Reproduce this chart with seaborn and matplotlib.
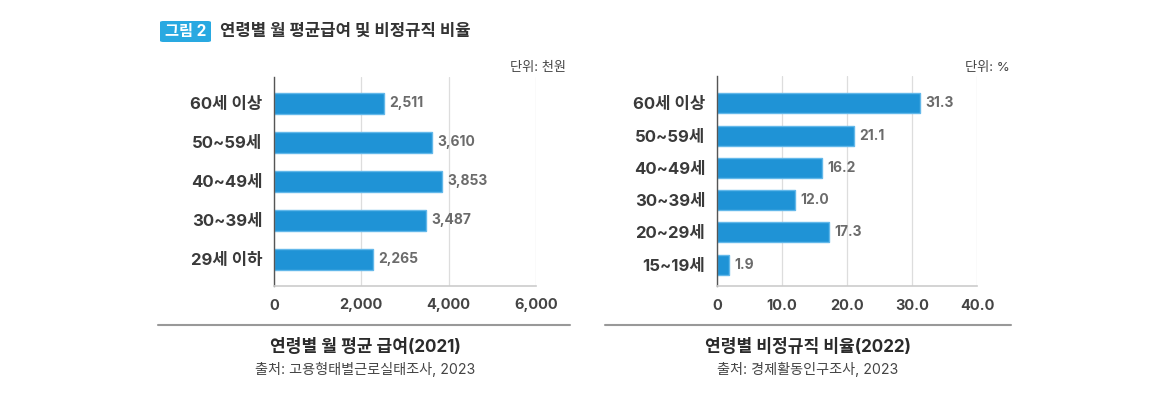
import matplotlib
matplotlib.use("Agg")
import matplotlib.pyplot as plt
import seaborn as sns
import pandas as pd
from matplotlib.patches import FancyBboxPatch

sns.set_theme(style="white")
plt.rcParams['font.family'] = ['Inter', 'Noto Sans CJK KR', 'DejaVu Sans']

# ---- data ----
wage_groups = ["60세 이상", "50~59세", "40~49세", "30~39세", "29세 이하"]
wage_values = [2511, 3610, 3853, 3487, 2265]
wage_ticks = [0, 2000, 4000, 6000]

nonreg_groups = ["60세 이상", "50~59세", "40~49세", "30~39세", "20~29세", "15~19세"]
nonreg_values = [31.3, 21.1, 16.2, 12.0, 17.3, 1.9]
nonreg_ticks = [0, 10, 20, 30, 40]

BAR = "#1F93D6"
EDGE = "#63B8EA"

fig = plt.figure(figsize=(11.7, 3.97), dpi=100)
W, H = 1170, 397

def ax_rect(x0, x1, y0, y1):
    return [x0 / W, 1 - y1 / H, (x1 - x0) / W, (y1 - y0) / H]

def style_axes(ax, ticks, labels, xmax, ylim):
    ax.set_xlim(0, xmax)
    ax.set_ylim(*ylim)
    ax.set_xticks(ticks)
    ax.set_xticklabels(labels, fontsize=10.5, fontweight="bold", color="#444444")
    for t in ax.get_yticklabels():
        t.set_fontsize(12)
        t.set_fontweight("bold")
        t.set_color("#3a3a3a")
    ax.set_xlabel("")
    ax.set_ylabel("")
    ax.tick_params(axis="both", length=0)
    ax.tick_params(axis="x", pad=9)
    ax.tick_params(axis="y", pad=8.5)
    ax.grid(axis="x", color="#dddddd", linewidth=0.9)
    ax.set_axisbelow(True)
    for s in ["top", "right"]:
        ax.spines[s].set_visible(False)
    ax.spines["left"].set_color("#555555")
    ax.spines["left"].set_linewidth(1.0)
    ax.spines["bottom"].set_color("#cccccc")
    ax.spines["bottom"].set_linewidth(1.2)

# ---- left chart ----
ax1 = fig.add_axes(ax_rect(274, 536, 77, 286))
df1 = pd.DataFrame({"group": wage_groups, "value": wage_values})
sns.barplot(data=df1, y="group", x="value", orient="h", color=BAR,
            width=0.53, edgecolor=EDGE, linewidth=1.0, saturation=1, ax=ax1)
style_axes(ax1, wage_ticks, [f"{t:,}" for t in wage_ticks], 6000, (4.68, -0.67))
for p, v in zip(ax1.patches, wage_values):
    ax1.text(p.get_width() + 120, p.get_y() + p.get_height() / 2, f"{v:,}",
             va="center", ha="left", fontsize=10, fontweight="bold", color="#6b6b6b")

# ---- right chart ----
ax2 = fig.add_axes(ax_rect(717, 977, 76, 286))
df2 = pd.DataFrame({"group": nonreg_groups, "value": nonreg_values})
sns.barplot(data=df2, y="group", x="value", orient="h", color=BAR,
            width=0.62, edgecolor=EDGE, linewidth=1.0, saturation=1, ax=ax2)
style_axes(ax2, nonreg_ticks, [f"{t:.1f}" if t else "0" for t in nonreg_ticks], 40, (5.66, -0.85))
for p, v in zip(ax2.patches, nonreg_values):
    ax2.text(p.get_width() + 0.8, p.get_y() + p.get_height() / 2, f"{v:.1f}",
             va="center", ha="left", fontsize=10, fontweight="bold", color="#6b6b6b")

# ---- units ----
fig.text(566 / W, 1 - 68 / H, "단위: 천원", ha="right", va="center", fontsize=9.5, color="#444444")
fig.text(1010 / W, 1 - 68 / H, "단위: %", ha="right", va="center", fontsize=9.5, color="#444444")

# ---- header ----
badge = FancyBboxPatch((160 / W, 1 - 42 / H), 51 / W, 21 / H,
                       boxstyle="round,pad=0,rounding_size=0.003",
                       transform=fig.transFigure, facecolor="#29A9E1", edgecolor="none")
fig.patches.append(badge)
fig.text(185.5 / W, 1 - 31.5 / H, "그림 2", ha="center", va="center",
         fontsize=11, fontweight="bold", color="white")
fig.text(220 / W, 1 - 31.5 / H, "연령별 월 평균급여 및 비정규직 비율", ha="left", va="center",
         fontsize=12, fontweight="bold", color="#333333")

# ---- bottom separators and captions ----
fig.add_artist(plt.Line2D([158 / W, 570 / W], [1 - 325 / H, 1 - 325 / H],
                          transform=fig.transFigure, color="#999999", linewidth=1.5))
fig.add_artist(plt.Line2D([605 / W, 1011 / W], [1 - 325 / H, 1 - 325 / H],
                          transform=fig.transFigure, color="#999999", linewidth=1.5))

fig.text(365 / W, 1 - 348 / H, "연령별 월 평균 급여(2021)", ha="center", va="center",
         fontsize=12.3, fontweight="bold", color="#2b2b2b")
fig.text(365 / W, 1 - 369 / H, "출처: 고용형태별근로실태조사, 2023", ha="center", va="center",
         fontsize=10.2, color="#444444")
fig.text(808 / W, 1 - 348 / H, "연령별 비정규직 비율(2022)", ha="center", va="center",
         fontsize=12.3, fontweight="bold", color="#2b2b2b")
fig.text(808 / W, 1 - 369 / H, "출처: 경제활동인구조사, 2023", ha="center", va="center",
         fontsize=10.2, color="#444444")

fig.savefig("out.png", dpi=100)
